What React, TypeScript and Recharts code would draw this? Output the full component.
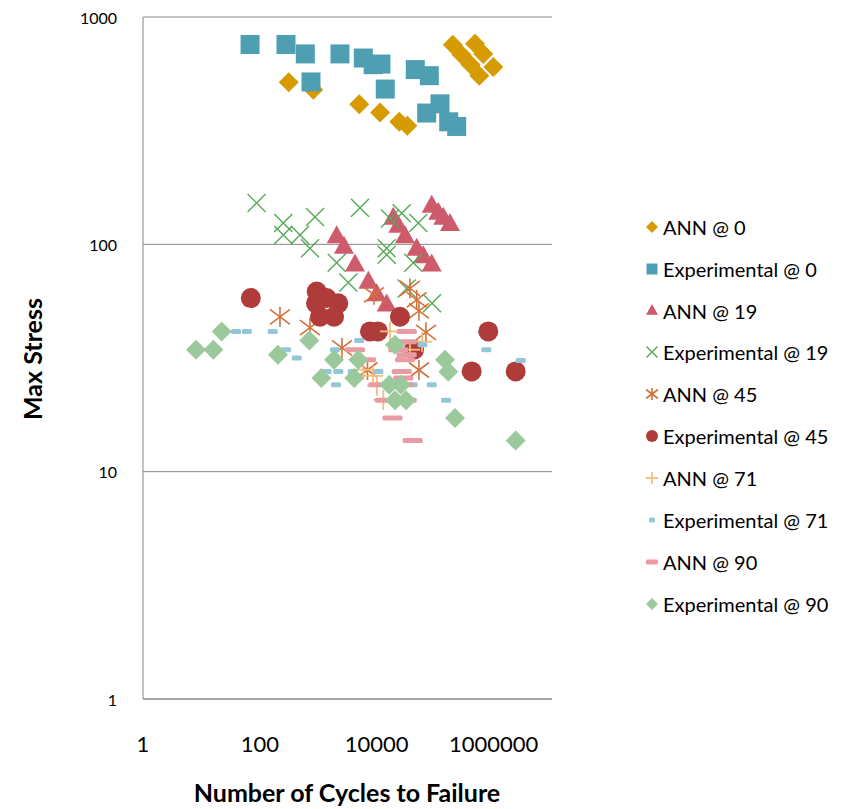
import { ScatterChart, Scatter, XAxis, YAxis, CartesianGrid } from "recharts";

// [cycles, max stress] pairs
const ann0 = [
  [312, 516], [822, 479], [5030, 413], [11400, 380], [24300, 346], [33400, 332],
  [200000, 755], [284000, 682], [406000, 617], [570000, 552],
  [481000, 763], [667000, 688], [989000, 603],
];
const exp0 = [
  [68, 757], [280, 757], [600, 688], [2350, 688], [5900, 660], [8700, 617], [11800, 621],
  [45700, 587], [79400, 552], [750, 518], [14000, 482], [71700, 378], [121000, 415],
  [170600, 346], [234000, 330],
];
const ann19 = [
  [2065, 108], [2750, 97], [4250, 81], [7200, 68], [10000, 60], [14800, 54],
  [19200, 130], [23400, 120], [30500, 108], [48300, 95], [62700, 88], [87300, 81],
  [87300, 147], [113000, 137], [138000, 130], [179500, 122],
];
const exp19 = [
  [88, 152], [252, 124], [252, 110], [486, 110], [721, 96], [879, 132], [2065, 83],
  [5170, 145], [16900, 130], [26800, 137], [51500, 124], [14800, 96], [14800, 90],
  [42300, 83], [3263, 68], [32600, 64], [88300, 55],
];
const ann45 = [
  [221, 48], [721, 43], [2545, 35], [8980, 60], [37100, 64], [48300, 57],
  [52900, 51], [69700, 41], [52900, 28], [6950, 28],
];
const exp45 = [
  [70, 58], [940, 62], [1390, 58], [2200, 55], [914, 55], [1070, 48], [1860, 48],
  [7670, 41.4], [10500, 41.4], [25000, 48], [43500, 34.4], [812000, 41.4],
  [422000, 27.6], [2390000, 27.6],
];
const ann71 = [
  [16900, 41.4], [37100, 34.4], [59600, 37.3], [5890, 28.1], [8630, 26.4],
  [10100, 23.9], [12970, 20.7],
];
const exp71 = [
  [39, 41.4], [60, 41.4], [166, 41.4], [280, 34.4], [427, 31.6], [1930, 34.4],
  [5030, 37.8], [1390, 27.6], [2200, 27.6], [3880, 27.6], [10650, 27.6], [2010, 24.1],
  [41300, 24.1], [87300, 24.1], [60700, 36.2], [153500, 20.6], [750000, 34.4],
  [2910000, 30.8],
];
const ann90 = [
  [32600, 41.4], [4250, 34.4], [32600, 37.3], [23400, 34.4], [32600, 32.7],
  [30500, 31.1], [6560, 31.1], [26800, 27.6], [28500, 25.8], [10650, 24.1],
  [28500, 24.1], [13860, 20.6], [32600, 20.6], [18600, 17.2], [41300, 13.7],
];
const exp90 = [
  [8.1, 34.4], [16, 34.4], [22.2, 41.4], [204, 32.7], [702, 37.8], [1130, 25.8],
  [1860, 31.1], [4130, 25.8], [4840, 31.1], [16400, 24.1], [20550, 36.2], [26000, 24.1],
  [20550, 20.6], [31700, 20.6], [147500, 31.1], [168000, 27.5], [218600, 17.2],
  [2390000, 13.7],
];

const xTicks = [1, 100, 10000, 1000000];
const yTicks = [1, 10, 100, 1000];

const FONT = "Lato, 'Open Sans', sans-serif";
const AXIS = "#868686";

type P = { cx?: number; cy?: number };

const diamond = (fill: string, r: number) => ({ cx = 0, cy = 0 }: P) => (
  <polygon points={`${cx},${cy - r} ${cx + r},${cy} ${cx},${cy + r} ${cx - r},${cy}`} fill={fill} />
);
const square = (fill: string, s: number) => ({ cx = 0, cy = 0 }: P) => (
  <rect x={cx - s / 2} y={cy - s / 2} width={s} height={s} fill={fill} />
);
const triangle = (fill: string, w: number) => ({ cx = 0, cy = 0 }: P) => (
  <polygon
    points={`${cx},${cy - w * 0.58} ${cx + w / 2},${cy + w * 0.32} ${cx - w / 2},${cy + w * 0.32}`}
    fill={fill}
  />
);
const cross = (stroke: string, r: number) => ({ cx = 0, cy = 0 }: P) => (
  <g stroke={stroke} strokeWidth={1.4}>
    <line x1={cx - r} y1={cy - r} x2={cx + r} y2={cy + r} />
    <line x1={cx - r} y1={cy + r} x2={cx + r} y2={cy - r} />
  </g>
);
const star = (stroke: string, r: number) => ({ cx = 0, cy = 0 }: P) => (
  <g stroke={stroke} strokeWidth={1.6}>
    <line x1={cx - r} y1={cy - r * 0.75} x2={cx + r} y2={cy + r * 0.75} />
    <line x1={cx - r} y1={cy + r * 0.75} x2={cx + r} y2={cy - r * 0.75} />
    <line x1={cx} y1={cy - r} x2={cx} y2={cy + r} />
  </g>
);
const circle = (fill: string, r: number) => ({ cx = 0, cy = 0 }: P) => (
  <circle cx={cx} cy={cy} r={r} fill={fill} />
);
const plus = (stroke: string, r: number) => ({ cx = 0, cy = 0 }: P) => (
  <g stroke={stroke} strokeWidth={1.8}>
    <line x1={cx - r} y1={cy} x2={cx + r} y2={cy} />
    <line x1={cx} y1={cy - r} x2={cx} y2={cy + r} />
  </g>
);
const dash = (fill: string, w: number) => ({ cx = 0, cy = 0 }: P) => (
  <rect x={cx - w / 2} y={cy - 2.5} width={w} height={5} rx={1.5} fill={fill} />
);

const series = [
  { name: "ANN @ 0", data: ann0, shape: diamond("#D59B00", 10), icon: diamond("#D59B00", 6) },
  { name: "Experimental @ 0", data: exp0, shape: square("#4F9FB3", 19), icon: square("#4F9FB3", 11) },
  { name: "ANN @ 19", data: ann19, shape: triangle("#CD5B6B", 20), icon: triangle("#CD5B6B", 12) },
  { name: "Experimental @ 19", data: exp19, shape: cross("#57A957", 9), icon: cross("#57A957", 5.5) },
  { name: "ANN @ 45", data: ann45, shape: star("#D4703A", 10), icon: star("#D4703A", 6) },
  { name: "Experimental @ 45", data: exp45, shape: circle("#AF3B3B", 10), icon: circle("#AF3B3B", 6) },
  { name: "ANN @ 71", data: ann71, shape: plus("#F5BE78", 10), icon: plus("#F5BE78", 6) },
  { name: "Experimental @ 71", data: exp71, shape: dash("#93C6D8", 10), icon: dash("#93C6D8", 6) },
  { name: "ANN @ 90", data: ann90, shape: dash("#E99AA2", 20), icon: dash("#E99AA2", 12) },
  { name: "Experimental @ 90", data: exp90, shape: diamond("#9BC99B", 10), icon: diamond("#9BC99B", 6) },
];

const XTick = ({ x, payload }: any) => (
  <text x={x} y={752} textAnchor="middle" fontSize={22} fill="#000" fontFamily={FONT}>
    {payload.value}
  </text>
);
const YTick = ({ y, payload }: any) => (
  <text x={117} y={y} textAnchor="end" dominantBaseline="central" fontSize={16} fill="#000" fontFamily={FONT}>
    {payload.value}
  </text>
);

export default function App() {
  return (
    <div style={{ position: "absolute", left: 0, top: 0, width: 850, height: 809, background: "#fff", fontFamily: FONT }}>
      <ScatterChart width={850} height={809} margin={{ top: 17, right: 298, bottom: 0, left: 0 }}>
        <CartesianGrid vertical={false} stroke={AXIS} strokeWidth={1} />
        <XAxis
          type="number"
          dataKey="x"
          scale="log"
          domain={[1, 10000000]}
          allowDataOverflow
          ticks={xTicks}
          height={110}
          axisLine={{ stroke: AXIS }}
          tickLine={false}
          tick={<XTick />}
          label={{
            content: () => (
              <text x={347} y={802} textAnchor="middle" fontSize={25} fontWeight="bold" fill="#000" fontFamily={FONT}>
                Number of Cycles to Failure
              </text>
            ),
          }}
        />
        <YAxis
          type="number"
          dataKey="y"
          scale="log"
          domain={[1, 1000]}
          allowDataOverflow
          ticks={yTicks}
          width={143}
          axisLine={{ stroke: AXIS }}
          tickLine={false}
          tick={<YTick />}
          label={{
            content: () => (
              <text
                x={32}
                y={359}
                transform="rotate(-90 32 359)"
                textAnchor="middle"
                dominantBaseline="central"
                fontSize={25}
                fontWeight="bold"
                fill="#000"
                fontFamily={FONT}
              >
                Max Stress
              </text>
            ),
          }}
        />
        {series.map((s) => (
          <Scatter
            key={s.name}
            name={s.name}
            data={s.data.map(([x, y]) => ({ x, y }))}
            shape={s.shape}
            isAnimationActive={false}
          />
        ))}
      </ScatterChart>
      <div style={{ position: "absolute", left: 644, top: 206, width: 206 }}>
        {series.map((s) => (
          <div key={s.name} style={{ height: 41.85, display: "flex", alignItems: "center" }}>
            <svg width={16} height={16} style={{ marginRight: 3 }}>
              {s.icon({ cx: 8, cy: 8 })}
            </svg>
            <span style={{ fontSize: 20, color: "#000", whiteSpace: "nowrap" }}>{s.name}</span>
          </div>
        ))}
      </div>
    </div>
  );
}
